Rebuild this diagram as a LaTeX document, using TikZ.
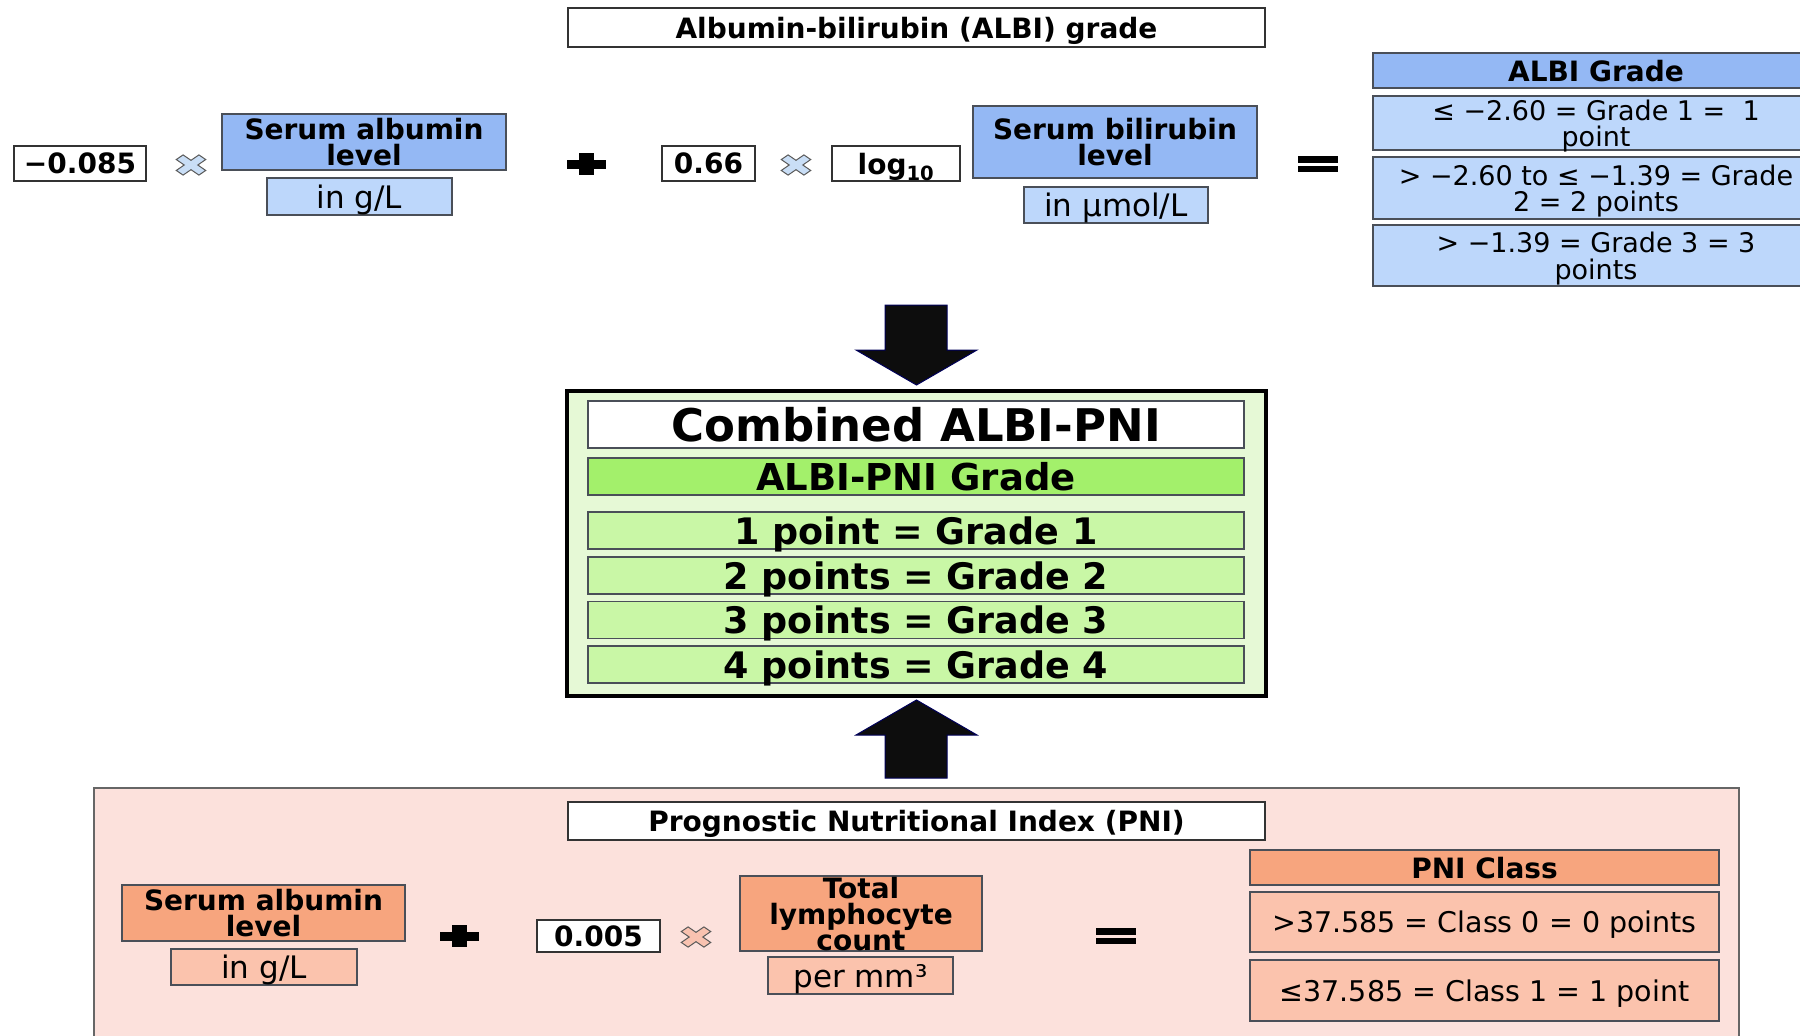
\documentclass[tikz,border=0pt]{standalone}
\usepackage{fontspec}
\setmainfont{DejaVu Sans}
\definecolor{bluehd}{HTML}{94B8F4}
\definecolor{bluelt}{HTML}{BDD7FB}
\definecolor{grnbg}{HTML}{E6F9D6}
\definecolor{grnhd}{HTML}{A3F06B}
\definecolor{grnrow}{HTML}{C9F7A6}
\definecolor{pinkbg}{HTML}{FCE1DC}
\definecolor{orhd}{HTML}{F7A57E}
\definecolor{orlt}{HTML}{FBC3AD}
\definecolor{edge}{HTML}{4A4F58}
\definecolor{xbluef}{HTML}{C9DEF6}
\definecolor{xpinkf}{HTML}{F9C2B0}
\tikzset{
  bx/.style={draw=edge,line width=1.4pt,inner sep=0pt,align=center,text depth=0pt},
  wb/.style={bx,draw=black!80,fill=white,font=\bfseries\fontsize{28}{28}\selectfont},
  bh/.style={bx,fill=bluehd,font=\bfseries\fontsize{28}{26}\selectfont},
  bl/.style={bx,fill=bluelt,font=\fontsize{27}{26.5}\selectfont},
  bu/.style={bx,fill=bluelt,font=\fontsize{31}{31}\selectfont},
  gh/.style={bx,fill=grnhd,font=\bfseries\fontsize{37}{37}\selectfont},
  gr/.style={bx,fill=grnrow,font=\bfseries\fontsize{36.5}{37}\selectfont},
  oh/.style={bx,fill=orhd,font=\bfseries\fontsize{28}{26}\selectfont},
  ol/.style={bx,fill=orlt,font=\fontsize{28.5}{28}\selectfont},
  ou/.style={bx,fill=orlt,font=\fontsize{31}{31}\selectfont},
  blockarrow/.style={fill=black!95,draw=blue!35!black,line width=1pt},
  mulx/.pic={\filldraw[draw=black!65,line width=1pt,rotate=45]
     (-0.3,-1) -- (0.3,-1) -- (0.3,-0.3) -- (1,-0.3) -- (1,0.3) -- (0.3,0.3) --
     (0.3,1) -- (-0.3,1) -- (-0.3,0.3) -- (-1,0.3) -- (-1,-0.3) -- (-0.3,-0.3) -- cycle;},
  plussym/.pic={\fill[black] (-19.5,-4.5) rectangle (19.5,4.5); \fill[black] (-7.5,-11) rectangle (7.5,11);},
  eqsym/.pic={\fill[black] (-20,-8) rectangle (20,-1.5); \fill[black] (-20,1.5) rectangle (20,8);}
}
\begin{document}
\begin{tikzpicture}[x=1pt,y=-1pt]
\useasboundingbox (0,0) rectangle (1800,1036);
\clip (0,0) rectangle (1800,1036);
\fill[white] (0,0) rectangle (1800,1036);

% ---------- ALBI ----------
\node[wb,minimum width=697,minimum height=39] (albititle) at (916.5,27.5) {Albumin-bilirubin (ALBI) grade};
\node[wb,minimum width=132,minimum height=35] (c085) at (80,163.5) {−0.085};
\pic[fill=xbluef,xscale=16,yscale=11] (mula) at (191,165) {mulx};
\node[bh,minimum width=284,minimum height=56] (alba) at (364,142) {Serum albumin\\level};
\node[bu,minimum width=185,minimum height=37] (albau) at (359.5,196.5) {in g/L};
\pic (plusa) at (586.5,164) {plussym};
\node[wb,minimum width=93,minimum height=35] (c066) at (708.5,163.5) {0.66};
\pic[fill=xbluef,xscale=16,yscale=11] (mulb) at (796,165) {mulx};
\node[wb,minimum width=128,minimum height=35] (logt) at (896,163.5) {log\textsubscript{10}};
\node[bh,minimum width=284,minimum height=72] (bil) at (1115,142) {Serum bilirubin\\level};
\node[bu,minimum width=184,minimum height=36] (bilu) at (1116,205) {in µmol/L};
\pic (eqa) at (1318,164) {eqsym};
\node[bh,minimum width=446,minimum height=35] (ghd) at (1596,70.5) {ALBI Grade};
\node[bl,minimum width=446,minimum height=54] (g1) at (1596,123) {≤ −2.60 = Grade 1 =\ \ 1\\point};
\node[bl,minimum width=446,minimum height=62] (g2) at (1596,188) {> −2.60 to ≤ −1.39 = Grade\\2 = 2 points};
\node[bl,minimum width=446,minimum height=61] (g3) at (1596,255.5) {> −1.39 = Grade 3 = 3\\points};

% ---------- Combined ----------
\node[draw=black,line width=4pt,fill=grnbg,minimum width=699,minimum height=305,inner sep=0pt] (comb) at (916.5,543.5) {};
\node[bx,fill=white,minimum width=656,minimum height=47,font=\bfseries\fontsize{45}{46}\selectfont] (combt) at (916,424.5) {Combined ALBI-PNI};
\node[gh,minimum width=656,minimum height=37] (cgh) at (916,476.5) {ALBI-PNI Grade};
\node[gr,minimum width=656,minimum height=37] (cr1) at (916,530.5) {1 point = Grade 1};
\node[gr,minimum width=656,minimum height=37] (cr2) at (916,575.5) {2 points = Grade 2};
\node[gr,minimum width=656,minimum height=37] (cr3) at (916,620) {3 points = Grade 3};
\node[gr,minimum width=656,minimum height=37] (cr4) at (916,664.5) {4 points = Grade 4};

% block arrows
\draw[blockarrow] (885,305) -- (947,305) -- (947,350) -- (977,350) -- (916.5,385) -- (856,350) -- (885,350) -- cycle;
\draw[blockarrow] (916.5,700) -- (977,735) -- (947,735) -- (947,778) -- (885,778) -- (885,735) -- (856,735) -- cycle;

% ---------- PNI ----------
\draw[draw=gray!80!black,line width=1.4pt,fill=pinkbg] (94,788) rectangle (1739,1060);
\node[wb,minimum width=697,minimum height=38] (pnititle) at (916.5,821) {Prognostic Nutritional Index (PNI)};
\node[oh,minimum width=283,minimum height=56] (albp) at (263.5,913) {Serum albumin\\level};
\node[ou,minimum width=186,minimum height=36] (albpu) at (264,967) {in g/L};
\pic (plusb) at (459,936) {plussym};
\node[wb,minimum width=123,minimum height=32] (c005) at (598.5,936) {0.005};
\pic[fill=xpinkf,xscale=16,yscale=11] (mulc) at (696,937) {mulx};
\node[oh,minimum width=242,minimum height=75] (lym) at (861,913.5) {Total\\lymphocyte\\count};
\node[ou,minimum width=185,minimum height=37] (lymu) at (860.5,975.5) {per mm³};
\pic (eqb) at (1116,936) {eqsym};
\node[oh,minimum width=469,minimum height=35] (phd) at (1484.5,867.5) {PNI Class};
\node[ol,minimum width=469,minimum height=60] (p1) at (1484.5,922) {>37.585 = Class 0 = 0 points};
\node[ol,minimum width=469,minimum height=61] (p2) at (1484.5,990.5) {≤37.585 = Class 1 = 1 point};
\end{tikzpicture}
\end{document}
